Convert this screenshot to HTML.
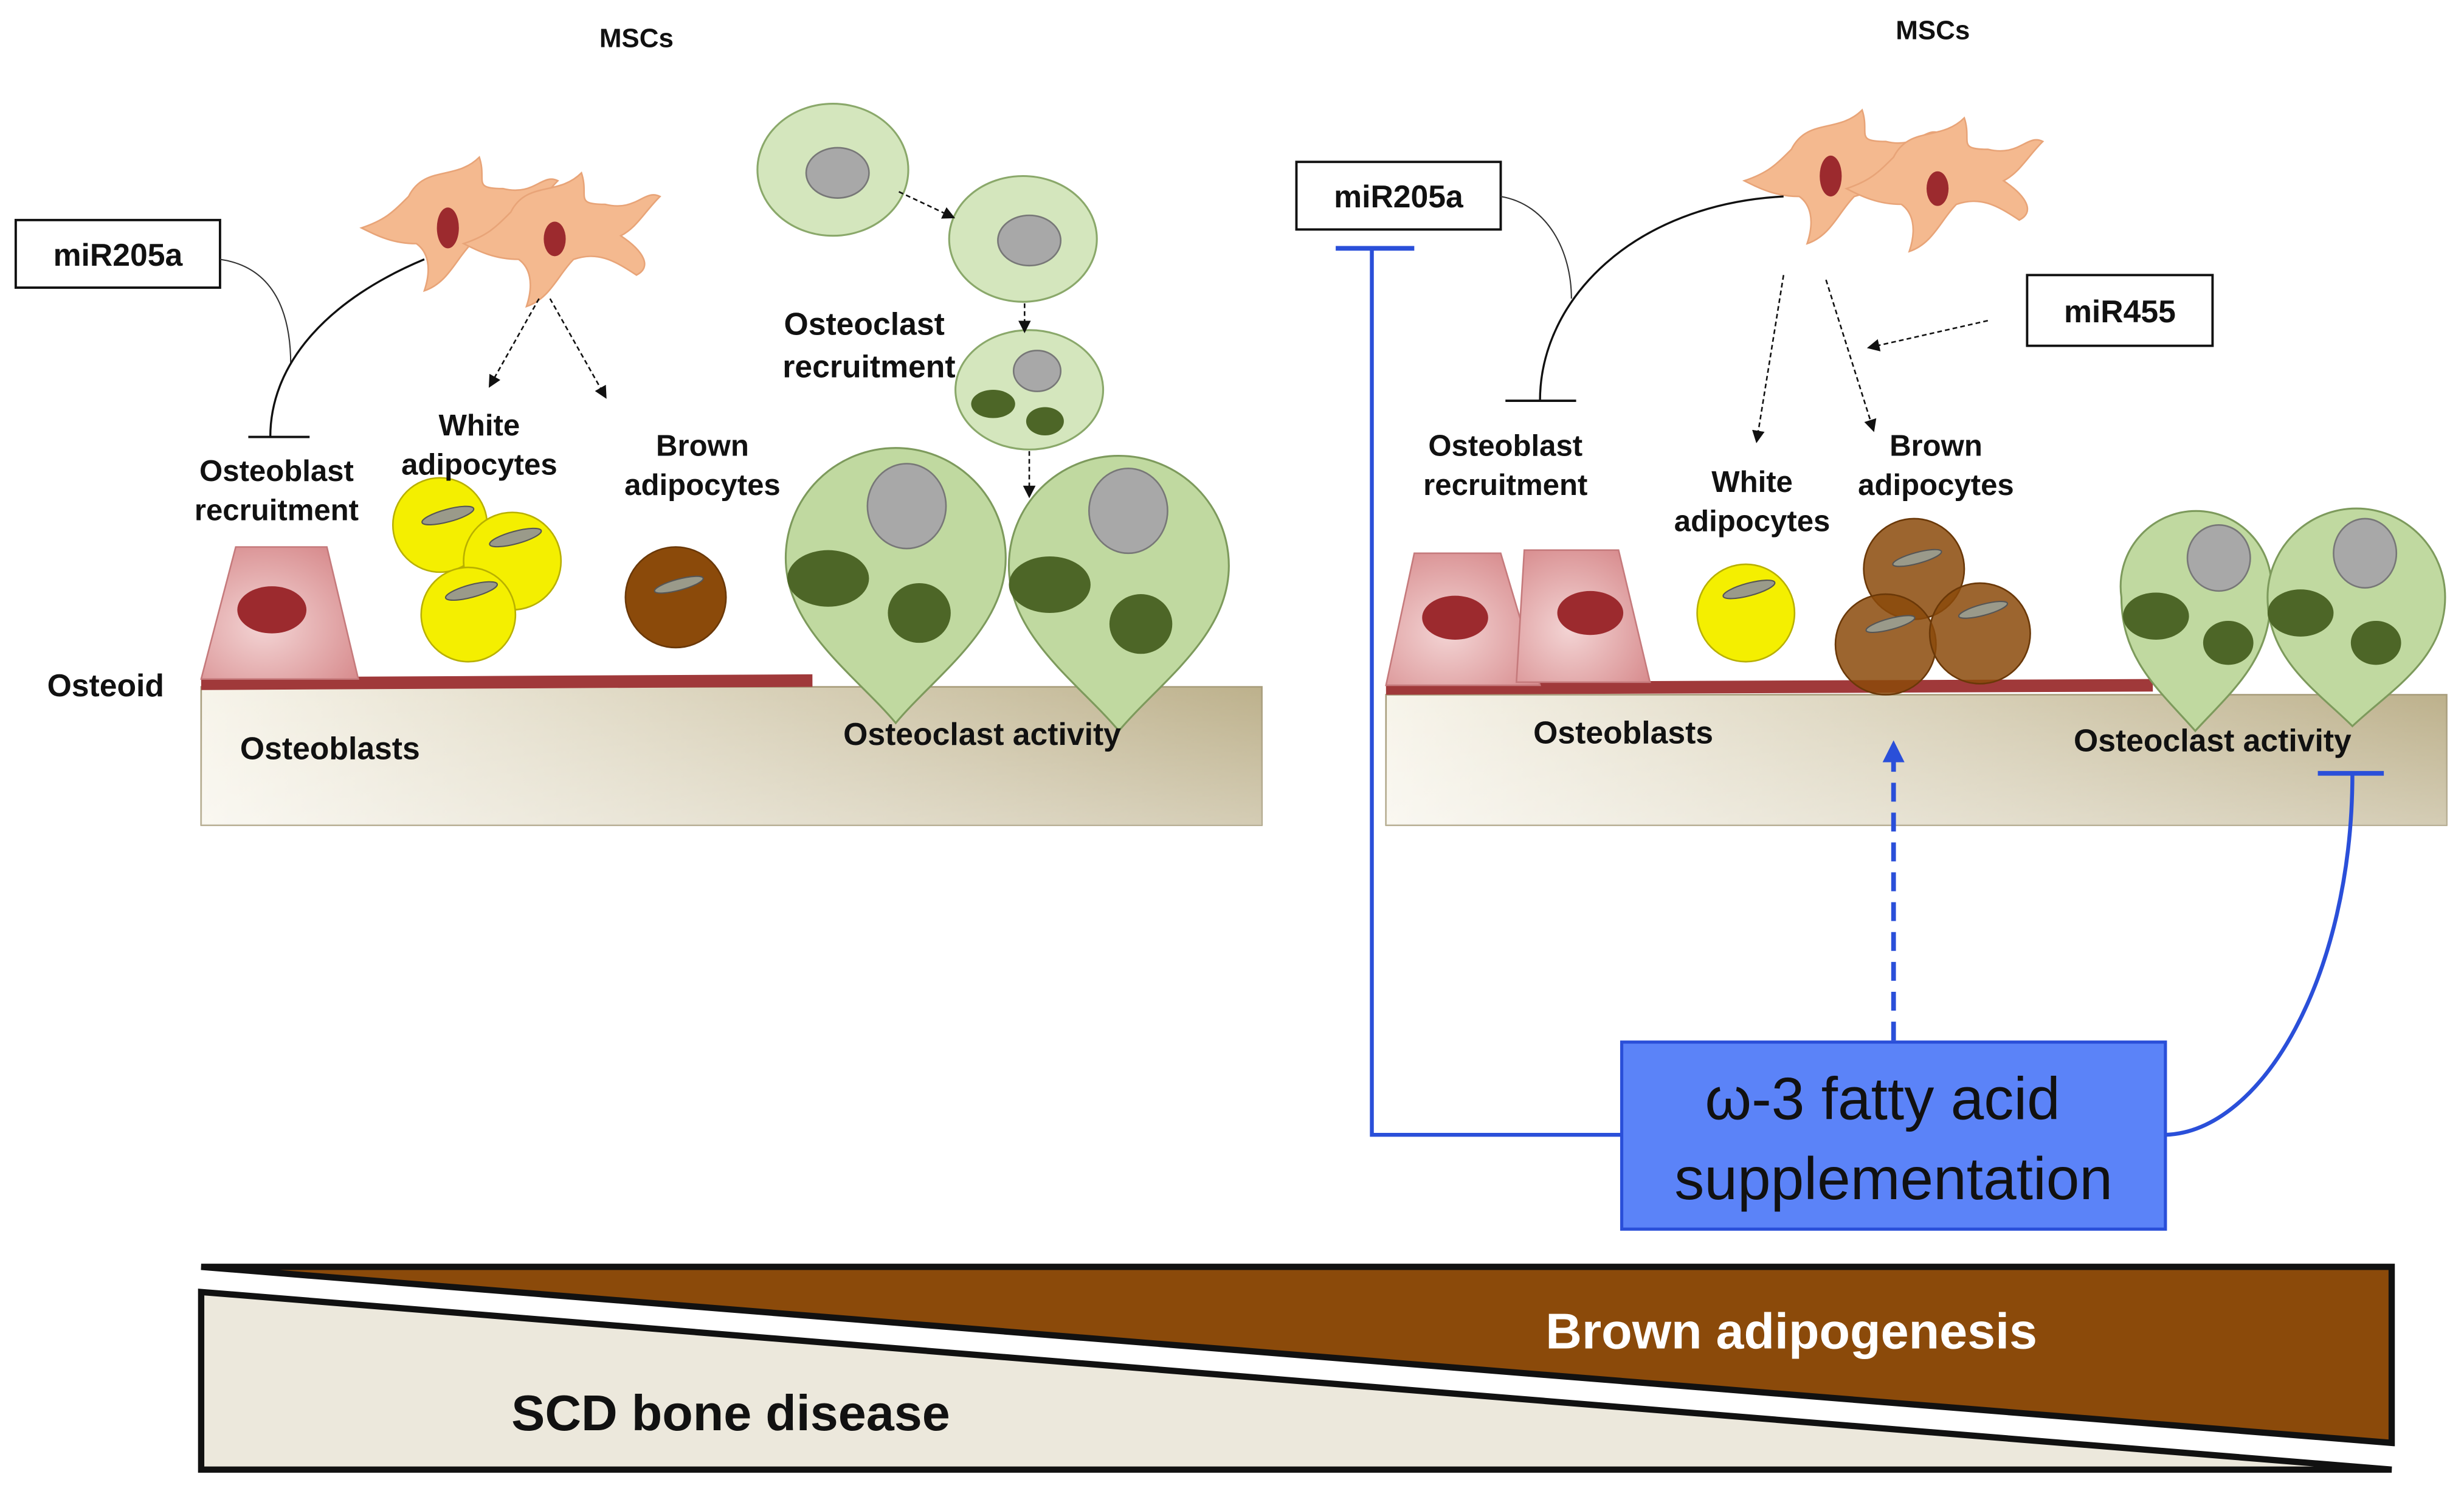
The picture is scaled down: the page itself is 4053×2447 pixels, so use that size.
<!DOCTYPE html>
<html><head><meta charset="utf-8"><style>
html,body{margin:0;padding:0;background:#fff;}
svg{display:block;}
text{font-family:"Liberation Sans",sans-serif;font-weight:bold;fill:#111;}
</style></head><body>
<svg width="4053" height="2447" viewBox="0 0 1568 946.7" xmlns="http://www.w3.org/2000/svg">
<defs>
<linearGradient id="slab" x1="0" x2="1" y1="0" y2="0"><stop offset="0" stop-color="#f7f4ea"/><stop offset="1" stop-color="#bdb18c"/></linearGradient>
<linearGradient id="slab2" x1="0" x2="0" y1="0" y2="1"><stop offset="0" stop-color="#fff" stop-opacity="0"/><stop offset="1" stop-color="#fff" stop-opacity="0.35"/></linearGradient>
<radialGradient id="pink" cx="0.4" cy="0.6" r="0.7"><stop offset="0" stop-color="#f3d4d4"/><stop offset="1" stop-color="#d88d8f"/></radialGradient>
<marker id="ar" markerWidth="8" markerHeight="8" refX="6" refY="4" orient="auto" markerUnits="userSpaceOnUse"><path d="M0,0 L8,4 L0,8 z" fill="#111"/></marker>
<marker id="arb" markerWidth="14" markerHeight="14" refX="10" refY="7" orient="auto" markerUnits="userSpaceOnUse"><path d="M0,0 L14,7 L0,14 z" fill="#2a4fd9"/></marker>
<g id="cell"><path d="M0,0 C10,-20 30,-10 45,-25 C50,-10 40,-5 60,-5 C80,0 85,-15 95,-10 C85,0 80,10 70,15 C85,25 90,35 80,40 C65,30 55,25 40,30 C30,40 25,55 10,60 C15,45 12,35 5,30 C-10,30 -20,25 -30,20 C-15,15 -10,10 0,0 z" fill="#f4b98f" stroke="#e8a478" stroke-width="1"/></g>
</defs>

<!-- LEFT -->
<text x="405" y="30" font-size="17" text-anchor="middle">MSCs</text>
<use href="#cell" x="260" y="125"/>
<use href="#cell" x="325" y="135"/>
<ellipse cx="285" cy="145" rx="7" ry="13" fill="#9c2a2e"/>
<ellipse cx="353" cy="152" rx="7" ry="11" fill="#9c2a2e"/>
<rect x="10" y="140" width="130" height="43" fill="#fff" stroke="#111" stroke-width="1.5"/>
<text x="75" y="169" font-size="20" text-anchor="middle">miR205a</text>
<path d="M140,165 C175,170 185,200 185,232" fill="none" stroke="#333" stroke-width="0.8"/>
<path d="M270,165 C210,190 172,230 172,278" fill="none" stroke="#111" stroke-width="1.3"/>
<line x1="158" y1="278" x2="197" y2="278" stroke="#111" stroke-width="1.5"/>
<line x1="343" y1="190" x2="312" y2="245" stroke="#111" stroke-width="1" stroke-dasharray="3,2" marker-end="url(#ar)"/>
<line x1="350" y1="190" x2="385" y2="252" stroke="#111" stroke-width="1" stroke-dasharray="3,2" marker-end="url(#ar)"/>

<rect x="128" y="437" width="675" height="88" fill="url(#slab)" stroke="#a89d7c" stroke-width="1"/>
<rect x="128" y="437" width="675" height="88" fill="url(#slab2)"/>
<line x1="128" y1="435" x2="517" y2="433" stroke="#a0393a" stroke-width="8"/>
<text x="30" y="443" font-size="20">Osteoid</text>
<text x="210" y="483" font-size="20" text-anchor="middle">Osteoblasts</text>
<path d="M150,348 L208,348 L228,432 L128,432 z" fill="url(#pink)" stroke="#c57a7c" stroke-width="1"/>
<ellipse cx="173" cy="388" rx="22" ry="15" fill="#9c2a2e"/>
<g stroke="#b8b000" stroke-width="1">
<circle cx="280" cy="334" r="30" fill="#f4ef00"/>
<circle cx="326" cy="357" r="31" fill="#f4ef00"/>
<circle cx="298" cy="391" r="30" fill="#f4ef00"/>
</g>
<g fill="#9a9a8a" stroke="#555" stroke-width="0.8">
<ellipse cx="285" cy="328" rx="17" ry="4" transform="rotate(-15 285 328)"/>
<ellipse cx="328" cy="342" rx="17" ry="4" transform="rotate(-15 328 342)"/>
<ellipse cx="300" cy="376" rx="17" ry="4" transform="rotate(-15 300 376)"/>
</g>
<circle cx="430" cy="380" r="32" fill="#8b4a0a" stroke="#6a3808"/>
<ellipse cx="432" cy="372" rx="16" ry="3.5" transform="rotate(-15 432 372)" fill="#9a9a8a" stroke="#555" stroke-width="0.8"/>
<text x="305" y="277" font-size="19" text-anchor="middle">White</text>
<text x="305" y="302" font-size="19" text-anchor="middle">adipocytes</text>
<text x="447" y="290" font-size="19" text-anchor="middle">Brown</text>
<text x="447" y="315" font-size="19" text-anchor="middle">adipocytes</text>
<text x="176" y="306" font-size="19" text-anchor="middle">Osteoblast</text>
<text x="176" y="331" font-size="19" text-anchor="middle">recruitment</text>

<g fill="#d4e6bd" stroke="#8aa86a" stroke-width="1.2">
<ellipse cx="530" cy="108" rx="48" ry="42"/>
<ellipse cx="651" cy="152" rx="47" ry="40"/>
<ellipse cx="655" cy="248" rx="47" ry="38"/>
</g>
<g fill="#a8a8a8" stroke="#777">
<ellipse cx="533" cy="110" rx="20" ry="16"/>
<ellipse cx="655" cy="153" rx="20" ry="16"/>
<ellipse cx="660" cy="236" rx="15" ry="13"/>
</g>
<ellipse cx="632" cy="257" rx="14" ry="9" fill="#4d6627"/>
<ellipse cx="665" cy="268" rx="12" ry="9" fill="#4d6627"/>
<line x1="572" y1="122" x2="606" y2="138" stroke="#111" stroke-dasharray="3,2" marker-end="url(#ar)"/>
<line x1="652" y1="193" x2="652" y2="210" stroke="#111" stroke-dasharray="3,2" marker-end="url(#ar)"/>
<line x1="655" y1="287" x2="655" y2="315" stroke="#111" stroke-dasharray="3,2" marker-end="url(#ar)"/>
<text x="550" y="213" font-size="20" text-anchor="middle">Osteoclast</text>
<text x="553" y="240" font-size="20" text-anchor="middle">recruitment</text>

<g fill="#c0d9a0" stroke="#7d9a5c" stroke-width="1.2">
<path d="M570,460 C545,430 500,400 500,355 A70,70 0 1 1 640,355 C640,400 595,430 570,460 z"/>
<path d="M712,465 C687,435 642,405 642,360 A70,70 0 1 1 782,360 C782,405 737,435 712,465 z"/>
</g>
<g fill="#a8a8a8" stroke="#777">
<ellipse cx="577" cy="322" rx="25" ry="27"/>
<ellipse cx="718" cy="325" rx="25" ry="27"/>
</g>
<g fill="#4d6627">
<ellipse cx="527" cy="368" rx="26" ry="18"/>
<ellipse cx="585" cy="390" rx="20" ry="19"/>
<ellipse cx="668" cy="372" rx="26" ry="18"/>
<ellipse cx="726" cy="397" rx="20" ry="19"/>
</g>
<text x="625" y="474" font-size="20" text-anchor="middle">Osteoclast activity</text>

<!-- RIGHT -->
<text x="1230" y="25" font-size="17" text-anchor="middle">MSCs</text>
<use href="#cell" x="1140" y="95"/>
<use href="#cell" x="1205" y="100"/>
<ellipse cx="1165" cy="112" rx="7" ry="13" fill="#9c2a2e"/>
<ellipse cx="1233" cy="120" rx="7" ry="11" fill="#9c2a2e"/>
<rect x="825" y="103" width="130" height="43" fill="#fff" stroke="#111" stroke-width="1.5"/>
<text x="890" y="132" font-size="20" text-anchor="middle">miR205a</text>
<path d="M955,125 C985,130 1000,160 1000,190" fill="none" stroke="#333" stroke-width="0.8"/>
<path d="M1135,125 C1040,130 980,190 980,255" fill="none" stroke="#111" stroke-width="1.3"/>
<line x1="958" y1="255" x2="1003" y2="255" stroke="#111" stroke-width="1.5"/>
<line x1="1135" y1="175" x2="1118" y2="280" stroke="#111" stroke-dasharray="3,2" marker-end="url(#ar)"/>
<line x1="1162" y1="178" x2="1192" y2="273" stroke="#111" stroke-dasharray="3,2" marker-end="url(#ar)"/>
<rect x="1290" y="175" width="118" height="45" fill="#fff" stroke="#111" stroke-width="1.5"/>
<text x="1349" y="205" font-size="20" text-anchor="middle">miR455</text>
<line x1="1265" y1="204" x2="1190" y2="221" stroke="#111" stroke-dasharray="3,2" marker-end="url(#ar)"/>
<text x="958" y="290" font-size="19" text-anchor="middle">Osteoblast</text>
<text x="958" y="315" font-size="19" text-anchor="middle">recruitment</text>
<text x="1115" y="313" font-size="19" text-anchor="middle">White</text>
<text x="1115" y="338" font-size="19" text-anchor="middle">adipocytes</text>
<text x="1232" y="290" font-size="19" text-anchor="middle">Brown</text>
<text x="1232" y="315" font-size="19" text-anchor="middle">adipocytes</text>

<rect x="882" y="442" width="675" height="83" fill="url(#slab)" stroke="#a89d7c" stroke-width="1"/>
<rect x="882" y="442" width="675" height="83" fill="url(#slab2)"/>
<line x1="882" y1="438" x2="1370" y2="436" stroke="#a0393a" stroke-width="8"/>
<text x="1033" y="473" font-size="20" text-anchor="middle">Osteoblasts</text>
<path d="M900,352 L955,352 L980,436 L882,436 z" fill="url(#pink)" stroke="#c57a7c"/>
<path d="M970,350 L1030,350 L1050,434 L965,434 z" fill="url(#pink)" stroke="#c57a7c"/>
<ellipse cx="926" cy="393" rx="21" ry="14" fill="#9c2a2e"/>
<ellipse cx="1012" cy="390" rx="21" ry="14" fill="#9c2a2e"/>
<circle cx="1111" cy="390" r="31" fill="#f4ef00" stroke="#b8b000"/>
<ellipse cx="1113" cy="375" rx="17" ry="4" transform="rotate(-15 1113 375)" fill="#9a9a8a" stroke="#555" stroke-width="0.8"/>
<g fill="#8b4a0a" fill-opacity="0.85" stroke="#6a3808">
<circle cx="1218" cy="362" r="32"/>
<circle cx="1200" cy="410" r="32"/>
<circle cx="1260" cy="403" r="32"/>
</g>
<g fill="#9a9a8a" stroke="#555" stroke-width="0.8">
<ellipse cx="1220" cy="355" rx="16" ry="3.5" transform="rotate(-15 1220 355)"/>
<ellipse cx="1203" cy="397" rx="16" ry="3.5" transform="rotate(-15 1203 397)"/>
<ellipse cx="1262" cy="388" rx="16" ry="3.5" transform="rotate(-15 1262 388)"/>
</g>
<g fill="#c0d9a0" stroke="#7d9a5c" stroke-width="1.2">
<path d="M1397,465 C1375,440 1350,420 1350,380 A48,48 0 1 1 1445,380 C1445,420 1420,440 1397,465 z"/>
<path d="M1497,462 C1475,440 1443,420 1443,380 A56,56 0 1 1 1556,380 C1556,420 1520,440 1497,462 z"/>
</g>
<g fill="#a8a8a8" stroke="#777">
<ellipse cx="1412" cy="355" rx="20" ry="21"/>
<ellipse cx="1505" cy="352" rx="20" ry="22"/>
</g>
<g fill="#4d6627">
<ellipse cx="1372" cy="392" rx="21" ry="15"/>
<ellipse cx="1418" cy="409" rx="16" ry="14"/>
<ellipse cx="1464" cy="390" rx="21" ry="15"/>
<ellipse cx="1512" cy="409" rx="16" ry="14"/>
</g>
<text x="1408" y="478" font-size="20" text-anchor="middle">Osteoclast activity</text>

<!-- blue -->
<line x1="850" y1="158" x2="900" y2="158" stroke="#2a4fd9" stroke-width="3"/>
<polyline points="873,158 873,722 1032,722" fill="none" stroke="#2a4fd9" stroke-width="2.5"/>
<line x1="1475" y1="492" x2="1517" y2="492" stroke="#2a4fd9" stroke-width="3"/>
<path d="M1378,722 C1440,720 1497,620 1497,492" fill="none" stroke="#2a4fd9" stroke-width="2.5"/>
<line x1="1205" y1="662" x2="1205" y2="475" stroke="#2a4fd9" stroke-width="3" stroke-dasharray="12,7" marker-end="url(#arb)"/>
<rect x="1032" y="663" width="346" height="119" fill="#5b83f8" stroke="#2a4fd9" stroke-width="2"/>
<text x="1198" y="712" font-size="38" text-anchor="middle" style="font-weight:normal">ω-3 fatty acid</text>
<text x="1205" y="763" font-size="38" text-anchor="middle" style="font-weight:normal">supplementation</text>

<!-- bottom -->
<polygon points="128,806 1522,806 1522,918" fill="#8b4a0a" stroke="#111" stroke-width="4"/>
<polygon points="128,822 128,935 1522,935" fill="#ece8dc" stroke="#111" stroke-width="4"/>
<text x="1140" y="858" font-size="32" text-anchor="middle" style="fill:#fff">Brown adipogenesis</text>
<text x="465" y="910" font-size="32" text-anchor="middle">SCD bone disease</text>
</svg>
</body></html>
